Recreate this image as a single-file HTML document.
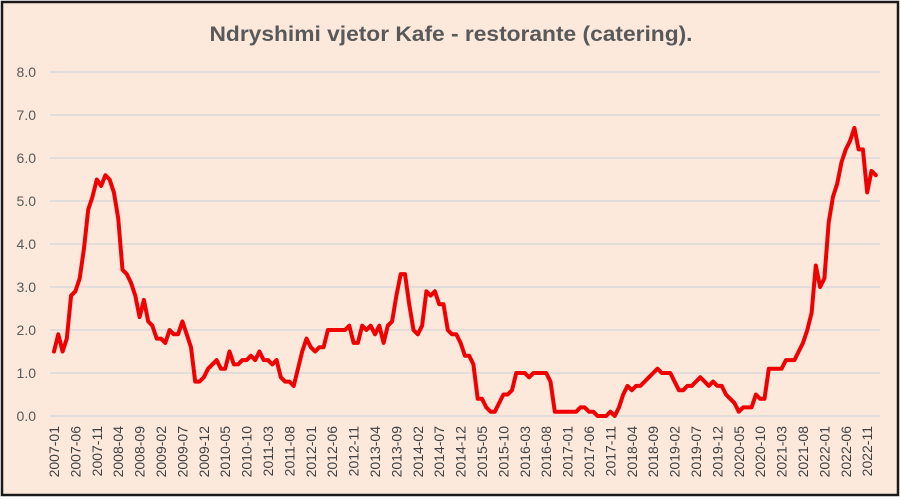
<!DOCTYPE html>
<html><head><meta charset="utf-8"><style>
html,body{margin:0;padding:0;background:#fff}
svg{display:block}
</style></head><body>
<svg id="c" width="901" height="500" xmlns="http://www.w3.org/2000/svg" font-family="Liberation Sans, sans-serif">
<rect x="2" y="2" width="896" height="493" fill="#FCE9DC" stroke="#1a1a1a" stroke-width="2.5"/>
<text x="451" y="41" text-anchor="middle" font-size="21" font-weight="bold" fill="#595959" textLength="483" lengthAdjust="spacingAndGlyphs">Ndryshimi vjetor Kafe - restorante (catering).</text>
<g id="grid" stroke="#D9D9D9" stroke-width="1.5"></g>
<g id="ylab" font-size="14" fill="#595959" text-anchor="end"></g>
<g id="xlab" font-size="14" fill="#404040"></g>
<polyline id="line" fill="none" stroke="#F00000" stroke-width="4" stroke-linejoin="round" stroke-linecap="round"/>
</svg>
<script>
var ns="http://www.w3.org/2000/svg";
function Y(v){return 416-v*43;}
var g=document.getElementById('grid'),yl=document.getElementById('ylab'),xl=document.getElementById('xlab');
for(var k=0;k<=8;k++){var l=document.createElementNS(ns,'line');l.setAttribute('x1',50);l.setAttribute('x2',880);l.setAttribute('y1',Y(k));l.setAttribute('y2',Y(k));g.appendChild(l);
var t=document.createElementNS(ns,'text');t.setAttribute('x',36);t.setAttribute('y',Y(k)+5);t.textContent=k.toFixed(1);yl.appendChild(t);}
var d=[1.5,1.9,1.5,1.8,2.8,2.9,3.2,3.9,4.8,5.1,5.5,5.35,5.6,5.5,5.2,4.6,3.4,3.3,3.1,2.8,2.3,2.7,2.2,2.1,1.8,1.8,1.7,2.0,1.9,1.9,2.2,1.9,1.6,0.8,0.8,0.9,1.1,1.2,1.3,1.1,1.1,1.5,1.2,1.2,1.3,1.3,1.4,1.3,1.5,1.3,1.3,1.2,1.3,0.9,0.8,0.8,0.7,1.1,1.5,1.8,1.6,1.5,1.6,1.6,2.0,2.0,2.0,2.0,2.0,2.1,1.7,1.7,2.1,2.0,2.1,1.9,2.1,1.7,2.1,2.2,2.8,3.3,3.3,2.6,2.0,1.9,2.1,2.9,2.8,2.9,2.6,2.6,2.0,1.9,1.9,1.7,1.4,1.4,1.2,0.4,0.4,0.2,0.1,0.1,0.3,0.5,0.5,0.6,1.0,1.0,1.0,0.9,1.0,1.0,1.0,1.0,0.8,0.1,0.1,0.1,0.1,0.1,0.1,0.2,0.2,0.1,0.1,0.0,0.0,0.0,0.1,0.0,0.2,0.5,0.7,0.6,0.7,0.7,0.8,0.9,1.0,1.1,1.0,1.0,1.0,0.8,0.6,0.6,0.7,0.7,0.8,0.9,0.8,0.7,0.8,0.7,0.7,0.5,0.4,0.3,0.1,0.2,0.2,0.2,0.5,0.4,0.4,1.1,1.1,1.1,1.1,1.3,1.3,1.3,1.5,1.7,2.0,2.4,3.5,3.0,3.2,4.5,5.1,5.4,5.9,6.2,6.4,6.7,6.2,6.2,5.2,5.7,5.6];
var dx=4.28,pts=[];
for(var i=0;i<d.length;i++)pts.push((54+i*dx).toFixed(1)+','+Y(d[i]).toFixed(1));
document.getElementById('line').setAttribute('points',pts.join(' '));
for(var m=0;m<=190;m+=5){var yr=2007+Math.floor(m/12),mo=m%12+1;var x=54+m*dx;
var t=document.createElementNS(ns,'text');t.setAttribute('transform','translate('+(x+5)+',426) rotate(-90)');t.setAttribute('text-anchor','end');t.textContent=yr+'-'+(mo<10?'0':'')+mo;xl.appendChild(t);}
</script>
</body></html>
